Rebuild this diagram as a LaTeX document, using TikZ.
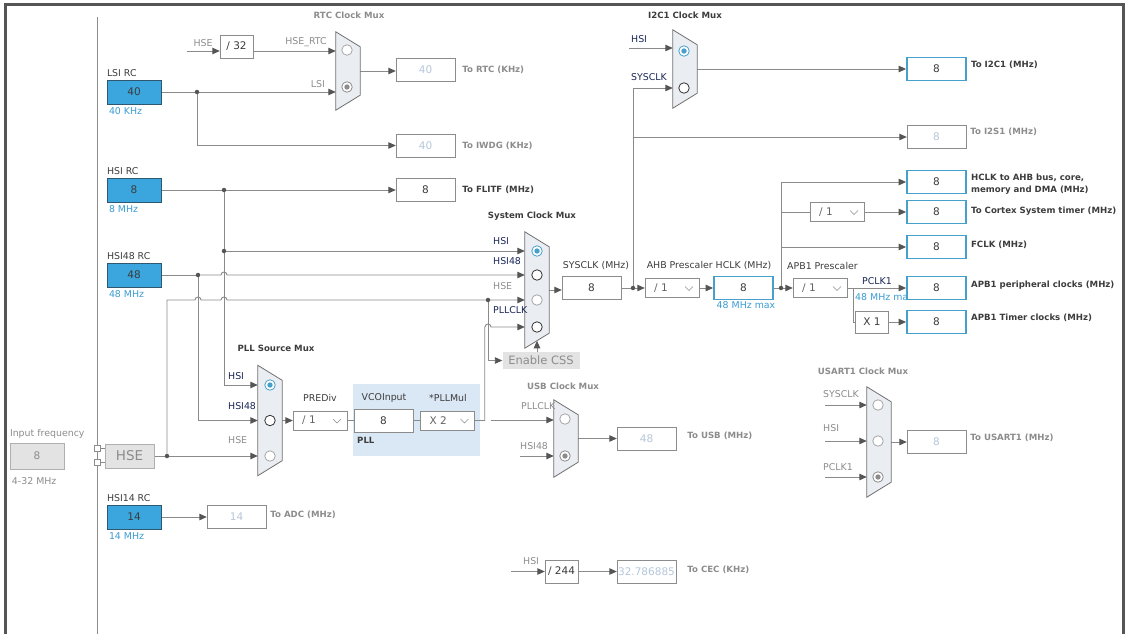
\documentclass[tikz,border=0pt]{standalone}
\usepackage{fontspec}
\setmainfont{DejaVu Sans}
\usetikzlibrary{arrows.meta,positioning,backgrounds,calc}

\definecolor{oscblue}{RGB}{58,166,221}
\definecolor{oscedge}{RGB}{45,88,112}
\definecolor{hotblue}{RGB}{70,160,203}
\definecolor{wiregray}{RGB}{138,138,138}
\definecolor{tipgray}{RGB}{85,85,85}
\definecolor{boxgray}{RGB}{140,140,140}
\definecolor{txtdark}{RGB}{60,60,60}
\definecolor{txtgray}{RGB}{140,140,140}
\definecolor{offtxt}{RGB}{182,199,218}
\definecolor{lblue}{RGB}{58,155,210}
\definecolor{navy}{RGB}{26,38,86}
\definecolor{muxfill}{RGB}{234,237,241}
\definecolor{muxedge}{RGB}{112,112,112}
\definecolor{pllbg}{RGB}{218,231,244}
\definecolor{greyfill}{RGB}{227,227,227}
\definecolor{framegray}{RGB}{85,85,85}

\newcommand{\lblfont}{\fontsize{9.4}{11}\selectfont}
\newcommand{\ttlfont}{\fontsize{8.6}{10.5}\selectfont\bfseries}
\newcommand{\valfont}{\fontsize{10.5}{12}\selectfont}

\tikzset{
  lbl/.style={font=\lblfont,text=txtdark,inner sep=0pt},
  navylbl/.style={lbl,text=navy},
  dimlbl/.style={lbl,text=txtgray},
  bluelbl/.style={lbl,text=lblue},
  ttl/.style={font=\ttlfont,text=txtdark,inner sep=0pt},
  dimttl/.style={ttl,text=txtgray},
  oscbox/.style={rectangle,draw=oscedge,fill=oscblue,minimum width=54pt,
    minimum height=24pt,inner sep=0pt,font=\valfont,text=txtdark},
  valbox/.style={rectangle,draw=boxgray,fill=white,minimum width=59pt,
    minimum height=23pt,inner sep=0pt,font=\valfont,text=txtdark},
  hotbox/.style={valbox,draw=hotblue,line width=1.8pt},
  offbox/.style={valbox,text=offtxt},
  divbox/.style={valbox,minimum width=33pt},
  dropbox/.style={rectangle,draw=boxgray,fill=white,minimum width=54pt,minimum height=19pt,
    inner ysep=0pt,inner xsep=9pt,text width=36pt,align=left,font=\valfont,text=txtdark!80,
    path picture={\draw[boxgray,line width=0.6pt]
      ([xshift=-14pt,yshift=1.5pt]path picture bounding box.east) -- ++(4pt,-4pt) -- ++(4pt,4pt);}},
  greybox/.style={rectangle,draw=boxgray!70,fill=greyfill,inner sep=0pt,text=txtgray},
  muxbody/.style={rectangle,inner sep=0pt,minimum width=24pt},
  radio/.style={circle,draw=black!80,fill=white,line width=0.8pt,inner sep=0pt,minimum size=10.5pt},
  radiooff/.style={radio,draw=black!35},
  radiosel/.style={radio,draw=hotblue,
    path picture={\fill[hotblue] (path picture bounding box.center) circle (2.7pt);}},
  radiodim/.style={radio,draw=black!45,
    path picture={\fill[black!45] (path picture bounding box.center) circle (2.7pt);}},
  wire/.style={draw=wiregray,line width=0.9pt},
  arr/.style={wire,-{Triangle[length=7.5pt,width=6.5pt,color=tipgray]}},
  dot/.style={circle,fill=tipgray,inner sep=0pt,minimum size=4.5pt},
  pinbox/.style={rectangle,draw=boxgray,fill=white,inner sep=0pt,minimum size=6pt}
}

\newcommand{\muxshape}[1]{%
  \filldraw[fill=muxfill,draw=muxedge,line width=0.8pt] (#1.north west)
    -- ([yshift=-15pt]#1.north east) -- ([yshift=15pt]#1.south east)
    -- (#1.south west) -- cycle;}

\begin{document}
\begin{tikzpicture}[x=1pt,y=-1pt]
  \useasboundingbox (0,0) rectangle (1131,634);

  % Frame
  \draw[framegray,line width=3pt] (5.5,634) -- (5.5,4.5) -- (1123.5,4.5) -- (1123.5,634);
  \draw[muxedge!80,line width=0.8pt] (97,17) -- (97,634);

  % Oscillators
  \node[oscbox] (lsi) at (134,92) {40};
  \node[lbl,anchor=south west] at ([yshift=3pt]lsi.north west) {LSI RC};
  \node[bluelbl,anchor=north west] at ([xshift=2pt,yshift=-3pt]lsi.south west) {40 KHz};
  \node[oscbox] (hsi) at (134,190) {8};
  \node[lbl,anchor=south west] at ([yshift=3pt]hsi.north west) {HSI RC};
  \node[bluelbl,anchor=north west] at ([xshift=2pt,yshift=-3pt]hsi.south west) {8 MHz};
  \node[oscbox] (hsi48) at (134,275) {48};
  \node[lbl,anchor=south west] at ([yshift=3pt]hsi48.north west) {HSI48 RC};
  \node[bluelbl,anchor=north west] at ([xshift=2pt,yshift=-3pt]hsi48.south west) {48 MHz};
  \node[oscbox] (hsi14) at (134,517) {14};
  \node[lbl,anchor=south west] at ([yshift=3pt]hsi14.north west) {HSI14 RC};
  \node[bluelbl,anchor=north west] at ([xshift=2pt,yshift=-3pt]hsi14.south west) {14 MHz};

  \node[greybox,minimum width=54pt,minimum height=26pt,font=\valfont] (hsefreq) at (37,456) {8};
  \node[dimlbl,anchor=south west] at ([yshift=4pt]hsefreq.north west) {Input frequency};
  \node[dimlbl,anchor=north west] at ([xshift=2pt,yshift=-8pt]hsefreq.south west) {4-32 MHz};
  \node[greybox,minimum width=49pt,minimum height=24pt,font=\fontsize{13.5}{15}\selectfont] (hse) at (129.5,456) {HSE};
  \node[pinbox] (pina) at (97,448) {};
  \node[pinbox] (pinb) at (97,462) {};

  \node[dot] (lsidot) at (197,92) {};
  \node[dot] (hsidot) at (224,190) {};
  \node[dot] (hsidot2) at (224,251) {};
  \node[dot] (hsi48dot) at (198,275) {};
  \node[dot] (hsedot) at (167,456) {};

  % RTC Clock Mux
  \node[muxbody,minimum height=78pt] (rtcmux) at (348,71) {};
  \muxshape{rtcmux}
  \node[radiooff] (rtcin1) at (347,50) {};
  \node[radiodim] (rtcin2) at (347,87) {};
  \node[dimttl] at (349,15) {RTC Clock Mux};
  \coordinate (rtchse) at (187,51);
  \node[dimlbl,anchor=base] at (203,46.5) {HSE};
  \node[divbox] (div32) at (236.5,46.5) {/ 32};
  \node[dimlbl,anchor=base] at (306,44.5) {HSE\_RTC};
  \node[dimlbl,anchor=base east] at (325,87.5) {LSI};
  \node[offbox] (rtcbox) at (425.5,70) {40};
  \node[dimttl,right=7pt of rtcbox] {To RTC (KHz)};
  \node[offbox] (iwdgbox) at (425.5,145.5) {40};
  \node[dimttl,right=7pt of iwdgbox] {To IWDG (KHz)};
  \node[valbox] (flitfbox) at (425.5,190) {8};
  \node[ttl,right=7pt of flitfbox] {To FLITF (MHz)};

  % I2C1 Clock Mux
  \node[muxbody,minimum height=78pt] (i2cmux) at (685,69) {};
  \muxshape{i2cmux}
  \node[radiosel] (i2cin1) at (684,51) {};
  \node[radio] (i2cin2) at (684,88) {};
  \node[ttl] at (685,15) {I2C1 Clock Mux};
  \coordinate (i2chsi) at (629,48);
  \node[navylbl,anchor=base west] at (631,42.5) {HSI};
  \node[navylbl,anchor=base west] at (631,80.5) {SYSCLK};
  \node[hotbox] (i2cbox) at (936.5,69) {8};
  \node[ttl,anchor=west] at ([xshift=4pt,yshift=4pt]i2cbox.east) {To I2C1 (MHz)};
  \node[offbox] (i2sbox) at (936.5,137) {8};
  \node[dimttl,anchor=west] at ([xshift=4pt,yshift=5pt]i2sbox.east) {To I2S1 (MHz)};

  % System Clock Mux
  \node[muxbody,minimum height=116pt] (sysmux) at (537,290) {};
  \muxshape{sysmux}
  \node[radiosel] (sysin1) at (537,251) {};
  \node[radio] (sysin2) at (537,275) {};
  \node[radiooff] (sysin3) at (537,300) {};
  \node[radio] (sysin4) at (537,327) {};
  \node[ttl] at (532,216) {System Clock Mux};
  \node[navylbl,anchor=base west] at (493,244.3) {HSI};
  \node[navylbl,anchor=base west] at (493,264.3) {HSI48};
  \node[dimlbl,anchor=base west] at (493,289.3) {HSE};
  \node[navylbl,anchor=base west] at (493,313.3) {PLLCLK};
  \node[greybox,draw=none,minimum width=77pt,minimum height=17pt,
    font=\fontsize{11.5}{13}\selectfont] (css) at (541,360.5) {Enable CSS};
  \node[dot] (cssdot) at (488,300) {};

  % AHB / APB1
  \node[valbox] (sysclkbox) at (591.5,288) {8};
  \node[lbl,anchor=base] at (596,268.5) {SYSCLK (MHz)};
  \node[dot] (sysdot) at (633,288) {};
  \node[dropbox] (ahbpre) at (672,288) {/ 1};
  \node[lbl,anchor=base] at (709,268.5) {AHB Prescaler HCLK (MHz)};
  \node[hotbox] (hclkbox) at (743.5,288) {8};
  \node[bluelbl,anchor=base] at (746,308.5) {48 MHz max};
  \node[dot] (hclkdot) at (781,288) {};
  \node[dropbox] (apbpre) at (820,288) {/ 1};
  \node[lbl,anchor=base west] at (787,269.5) {APB1 Prescaler};
  \coordinate (pclkbr) at (853,288);
  \node[navylbl,anchor=base] at (877,284.5) {PCLK1};
  \node[bluelbl,anchor=base west] at (855,300.5) {48 MHz max};
  \node[divbox,minimum height=22pt] (x1box) at (872,322) {X 1};
  \node[dropbox] (cortexpre) at (837,212) {/ 1};

  \node[hotbox] (ahbbox) at (936.5,182) {8};
  \node[ttl,anchor=west,align=left] at ([xshift=4pt,yshift=-2pt]ahbbox.east)
    {HCLK to AHB bus, core,\\[1.5pt]memory and DMA (MHz)};
  \node[hotbox] (cortexbox) at (936.5,212) {8};
  \node[ttl,anchor=west] at ([xshift=4pt,yshift=1pt]cortexbox.east) {To Cortex System timer (MHz)};
  \node[hotbox] (fclkbox) at (936.5,247) {8};
  \node[ttl,anchor=west] at ([xshift=4pt,yshift=2pt]fclkbox.east) {FCLK (MHz)};
  \node[hotbox] (apbbox) at (936.5,288) {8};
  \node[ttl,anchor=west] at ([xshift=4pt,yshift=2.5pt]apbbox.east) {APB1 peripheral clocks (MHz)};
  \node[hotbox] (timbox) at (936.5,322) {8};
  \node[ttl,anchor=west] at ([xshift=4pt,yshift=4pt]timbox.east) {APB1 Timer clocks (MHz)};

  % PLL
  \node[muxbody,minimum height=110pt] (pllmux) at (270,420.5) {};
  \muxshape{pllmux}
  \node[radiosel] (pllin1) at (270,385) {};
  \node[radio] (pllin2) at (270,420.5) {};
  \node[radiooff] (pllin3) at (270,456) {};
  \node[ttl] at (276,348) {PLL Source Mux};
  \node[navylbl,anchor=base west] at (228,379.3) {HSI};
  \node[navylbl,anchor=base west] at (228,409.3) {HSI48};
  \node[dimlbl,anchor=base west] at (228,443.3) {HSE};
  \node[dropbox] (prediv) at (320,420.5) {/ 1};
  \node[lbl,anchor=base] at (320,401.5) {PREDiv};
  \node[valbox] (vcobox) at (383.5,420.5) {8};
  \node[lbl,anchor=base] at (384,400.5) {VCOInput};
  \node[dropbox] (pllmul) at (447.5,420.5) {X 2};
  \node[lbl,anchor=base] at (448,401.5) {*PLLMul};
  \node[ttl,anchor=base west] at (357,443.5) {PLL};

  % USB Clock Mux
  \node[muxbody,minimum height=77pt] (usbmux) at (566,438.5) {};
  \muxshape{usbmux}
  \node[radiooff] (usbin1) at (565,419) {};
  \node[radiodim] (usbin2) at (565,456) {};
  \node[dimttl] at (563,386) {USB Clock Mux};
  \node[dimlbl,anchor=base west] at (521,409.3) {PLLCLK};
  \node[dimlbl,anchor=base west] at (520,449.3) {HSI48};
  \coordinate (usbpll) at (491,420);
  \coordinate (usbhsi48) at (520,456);
  \node[offbox] (usbbox) at (646.5,438.5) {48};
  \node[dimttl,anchor=west] at ([xshift=11pt,yshift=3pt]usbbox.east) {To USB (MHz)};

  % CEC
  \coordinate (cechsi) at (511,571.5);
  \node[dimlbl,anchor=base west] at (523,564.5) {HSI};
  \node[divbox] (cecdiv) at (561.5,571.5) {/ 244};
  \node[offbox] (cecbox) at (646.5,571.5) {32.786885};
  \node[dimttl,anchor=west] at ([xshift=11pt,yshift=1.5pt]cecbox.east) {To CEC (KHz)};

  % USART1 Clock Mux
  \node[muxbody,minimum height=110pt] (usartmux) at (879,442) {};
  \muxshape{usartmux}
  \node[radiooff] (usartin1) at (878,405) {};
  \node[radiooff] (usartin2) at (878,441) {};
  \node[radiodim] (usartin3) at (878,477) {};
  \node[dimttl] at (863,371) {USART1 Clock Mux};
  \node[dimlbl,anchor=base west] at (823,397.3) {SYSCLK};
  \node[dimlbl,anchor=base west] at (823,431.3) {HSI};
  \node[dimlbl,anchor=base west] at (823,470.3) {PCLK1};
  \coordinate (usartsys) at (825,405);
  \coordinate (usarthsi) at (825,441);
  \coordinate (usartpclk) at (825,477);
  \node[offbox] (usartbox) at (936.5,442) {8};
  \node[dimttl,anchor=west] at ([xshift=4pt,yshift=4.5pt]usartbox.east) {To USART1 (MHz)};

  % ADC
  \node[offbox] (adcbox) at (236.5,517) {14};
  \node[dimttl,anchor=west] at ([xshift=4pt,yshift=2pt]adcbox.east) {To ADC (MHz)};

  % Wires
  \begin{scope}[on background layer]
    \node[fill=pllbg,minimum width=127pt,minimum height=72pt,inner sep=0pt] (pllarea) at (416.5,419.5) {};

    \draw[arr] (rtchse) -- (div32.west |- rtchse);
    \draw[arr] (div32.east |- rtchse) -- (rtcmux.west |- rtchse);
    \draw[wire] (lsi.east) -- (lsidot);
    \draw[arr] (lsidot) -- (rtcmux.west |- lsidot);
    \draw[arr] (lsidot) |- (iwdgbox.west);
    \draw[arr] (rtcmux.east) -- (rtcbox.west |- rtcmux.east);

    \draw[wire] (hsi.east) -- (hsidot);
    \draw[arr] (hsidot) -- (flitfbox.west);
    \draw[arr] (hsidot) |- (pllmux.west |- pllin1);
    \draw[arr] (hsidot2) -- (sysmux.west |- sysin1);
    \draw[wire] (hsi48.east) -- (hsi48dot);
    \draw[arr] (hsi48dot) -- ($(hsidot |- sysin2)+(-3,0)$)
      arc[start angle=180,end angle=0,radius=3pt] -- (sysmux.west |- sysin2);
    \draw[arr] (hsi48dot) |- (pllmux.west |- pllin2);

    \draw[wire] (pina.east) -- (pina -| hse.west);
    \draw[wire] (pinb.east) -- (pinb -| hse.west);
    \draw[wire] (hse.east) -- (hsedot);
    \draw[arr] (hsedot) -- (pllmux.west |- pllin3);
    \draw[arr] (hsedot) -- (hsedot |- sysin3) -- ($(hsi48dot |- sysin3)+(-3,0)$)
      arc[start angle=180,end angle=0,radius=3pt] -- ($(hsidot |- sysin3)+(-3,0)$)
      arc[start angle=180,end angle=0,radius=3pt] -- (sysmux.west |- sysin3);
    \draw[arr] (cssdot) |- (css.west);
    \draw[arr] (css.north -| sysmux) -- ++(0,-11);

    \draw[arr] (pllmux.east) -- (prediv.west);
    \draw[wire] (prediv.east) -- (vcobox.west);
    \draw[wire] (vcobox.east) -- (pllmul.west);
    \draw[arr] (pllmul.east) -- ++(10,0) |- ($(cssdot |- sysin4)+(-3,0)$)
      arc[start angle=180,end angle=0,radius=3pt] -- (sysmux.west |- sysin4);

    \draw[arr] (sysmux.east) -- (sysclkbox.west |- sysmux.east);
    \draw[wire] (sysclkbox.east) -- (sysdot);
    \draw[arr] (sysdot) -- (ahbpre.west);
    \draw[arr] (sysdot) |- (i2cmux.west |- i2cin2);
    \draw[arr] (sysdot |- i2sbox) -- (i2sbox.west);
    \draw[arr] (i2chsi) -- (i2cmux.west |- i2chsi);
    \draw[arr] (i2cmux.east) -- (i2cbox.west |- i2cmux.east);

    \draw[arr] (ahbpre.east) -- (hclkbox.west);
    \draw[wire] (hclkbox.east) -- (hclkdot);
    \draw[arr] (hclkdot) -- (apbpre.west);
    \draw[arr] (hclkdot) |- (ahbbox.west);
    \draw[wire] (hclkdot |- cortexpre) -- (cortexpre.west);
    \draw[arr] (cortexpre.east) -- (cortexbox.west);
    \draw[arr] (hclkdot |- fclkbox) -- (fclkbox.west);
    \draw[arr] (apbpre.east) -- (apbbox.west);
    \draw[wire] (pclkbr) |- (x1box.west);
    \draw[arr] (x1box.east) -- (timbox.west);

    \draw[arr] (usbpll) -- (usbmux.west |- usbpll);
    \draw[arr] (usbhsi48) -- (usbmux.west |- usbhsi48);
    \draw[arr] (usbmux.east) -- (usbbox.west);

    \draw[arr] (cechsi) -- (cecdiv.west);
    \draw[arr] (cecdiv.east) -- (cecbox.west);

    \draw[arr] (usartsys) -- (usartmux.west |- usartsys);
    \draw[arr] (usarthsi) -- (usartmux.west |- usarthsi);
    \draw[arr] (usartpclk) -- (usartmux.west |- usartpclk);
    \draw[arr] (usartmux.east) -- (usartbox.west);

    \draw[arr] (hsi14.east) -- (adcbox.west);
  \end{scope}

\end{tikzpicture}
\end{document}
